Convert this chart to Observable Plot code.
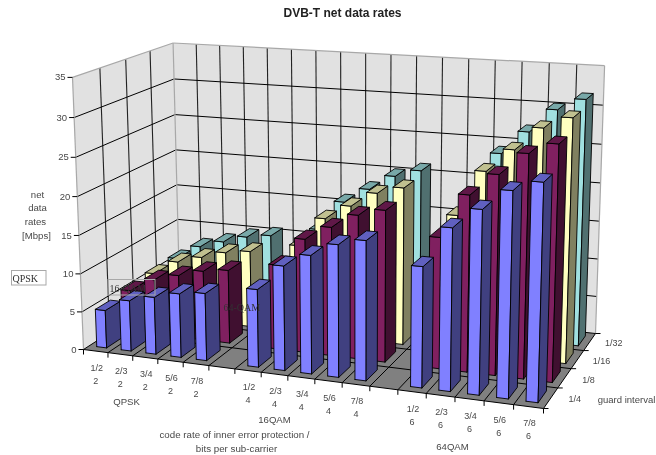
<!DOCTYPE html>
<html>
<head>
<meta charset="utf-8">
<script src="https://cdn.jsdelivr.net/npm/d3@7"></script>
<script src="https://cdn.jsdelivr.net/npm/@observablehq/plot@0.6"></script>
<style>
html,body{margin:0;padding:0;background:#fff;}
svg{display:block;filter:blur(0.35px);}
</style>
</head>
<body>
<div id="chart"></div>
<script>
// Data (Mbps), one list per guard interval
const codeRates = ["1/2", "2/3", "3/4", "5/6", "7/8"];
const bitsPerCarrier = [2, 4, 6];
const modulations = ["QPSK", "16QAM", "64QAM"];
const guardIntervals = ["1/4", "1/8", "1/16", "1/32"];
const guard1_4  = [4.98, 6.64, 7.46, 8.29, 8.71,  9.95, 13.27, 14.93, 16.59, 17.42,  14.93, 19.91, 22.39, 24.88, 26.13];
const guard1_8  = [5.53, 7.37, 8.29, 9.22, 9.68,  11.06, 14.75, 16.59, 18.43, 19.35,  16.59, 22.12, 24.88, 27.65, 29.03];
const guard1_16 = [5.85, 7.81, 8.78, 9.76, 10.25,  11.71, 15.61, 17.56, 19.52, 20.49,  17.56, 23.42, 26.35, 29.27, 30.74];
const guard1_32 = [6.03, 8.04, 9.05, 10.05, 10.56,  12.06, 16.09, 18.10, 20.11, 21.11,  18.10, 24.13, 27.14, 30.16, 31.67];
const series = [guard1_4, guard1_8, guard1_16, guard1_32];
const valueTicks = [0, 5, 10, 15, 20, 25, 30, 35];
const frontColors = ["#8080ff", "#802060", "#ffffc0", "#a0e0e0"];
const topColors   = ["#6060c0", "#601848", "#c0c090", "#78a8a8"];
const sideColors  = ["#404080", "#401030", "#808060", "#507070"];

// Camera calibration: floor corners and the vanishing point of the verticals
const slots = 17, depth = 4;
const [x0,y0,x1,y1,x2,y2,x3,y3] = [83,349, 543,408, 595,333, 179,287];
const den = (x1-x2)*(y3-y2) - (x3-x2)*(y1-y2);
const sx = x0-x1+x2-x3, sy = y0-y1+y2-y3;
const g = (sx*(y3-y2) - (x3-x2)*sy)/den;
const h = ((x1-x2)*sy - sx*(y1-y2))/den;
const A = x1-x0+g*x1, B = x3-x0+h*x3, D = y1-y0+g*y1, E = y3-y0+h*y3;
const vpX = 361, vpY = 7223, pw = -0.001088;
function project(u, v, z = 0) {
  const w = g*u + h*v + 1 + z*pw;
  return {
    x: (A*u + B*v + x0 + z*pw*vpX)/w,
    y: (D*u + E*v + y0 + z*pw*vpY)/w
  };
}
const zTop = valueTicks[valueTicks.length-1];
const polyRows = (points, fill, id) => [...points, points[0]].map(p => ({...p, id, fill}));

const wallPolys = [
  ...polyRows([project(0,0),project(0,1),project(0,1,zTop),project(0,0,zTop)], "#e1e1e1", "left"),
  ...polyRows([project(0,1),project(1,1),project(1,1,zTop),project(0,1,zTop)], "#e1e1e1", "back")
];
const floorPolys = polyRows([project(0,0),project(1,0),project(1,1),project(0,1)], "#808080", "floor");

// Bars, painted from the back row forward and left to right
const barPolys = [];
for (let s = series.length-1; s >= 0; s--) {
  series[s].forEach((val, i) => {
    const group = Math.floor(i/codeRates.length);
    const k = group*(codeRates.length+1) + i%codeRates.length;
    const u0 = (k+.305)/slots, u1 = (k+.71)/slots, v0 = (s+.22)/depth, v1 = (s+.8)/depth;
    barPolys.push(
      ...polyRows([project(u0,v0),project(u1,v0),project(u1,v0,val),project(u0,v0,val)], frontColors[s], `${s}-${i}-f`),
      ...polyRows([project(u1,v0),project(u1,v1),project(u1,v1,val),project(u1,v0,val)], sideColors[s], `${s}-${i}-s`),
      ...polyRows([project(u0,v0,val),project(u1,v0,val),project(u1,v1,val),project(u0,v1,val)], topColors[s], `${s}-${i}-t`)
    );
  });
}

const seg = (a,b) => ({x1:a.x,y1:a.y,x2:b.x,y2:b.y});
const steps = (n) => Array.from({length:n+1},(_,i)=>i);
const wallH = valueTicks.slice(1,-1).flatMap(z => [seg(project(0,0,z),project(0,1,z)), seg(project(0,1,z),project(1,1,z))]);
const wallV = [
  ...steps(slots).slice(1,-1).map(k => seg(project(k/slots,1),project(k/slots,1,zTop))),
  ...steps(depth).slice(1,-1).map(j => seg(project(0,j/depth),project(0,j/depth,zTop)))
];
const wallEdge = [
  seg(project(0,0),project(0,0,zTop)), seg(project(0,0,zTop),project(0,1,zTop)),
  seg(project(0,1,zTop),project(1,1,zTop)), seg(project(1,1,zTop),project(1,1)),
  seg(project(0,1),project(0,1,zTop))
];
const floorLines = [
  ...steps(slots).map(k => seg(project(k/slots,0),project(k/slots,1))),
  ...steps(depth).map(j => seg(project(0,j/depth),project(1,j/depth)))
];
const xTicks = steps(slots).map(k => project(k/slots,0));
const dTicks = steps(depth).map(j => project(1,j/depth));
const zTicksPos = valueTicks.map(z => ({...project(0,0,z), z}));

const xLabels = [];
codeRates.forEach((r,ri) => modulations.forEach((m,mi) => {
  xLabels.push({...project((mi*6+ri+.5)/slots,0), rate:r, bits:String(bitsPerCarrier[mi])});
}));
const dLabels = guardIntervals.map((t,j) => ({...project(1,(j+.5)/depth), t}));

const textFont = "'Liberation Sans', Arial, sans-serif";
const ink = "#484848";
const freeText = (lines, opts) => Plot.text(lines, {x:"x", y:"y", text:"t", fontFamily:textFont, fontSize:9.6, fill:ink, ...opts});

const chart = Plot.plot({
  width:656, height:455, margin:0,
  x:{domain:[0,656], range:[0,656], axis:null},
  y:{domain:[0,455], range:[0,455], axis:null},
  color:{type:"identity"},
  style:{background:"#fff"},
  marks:[
    Plot.line(wallPolys,{x:"x",y:"y",z:"id",fill:"fill",stroke:"none"}),
    Plot.link(wallV,{x1:"x1",y1:"y1",x2:"x2",y2:"y2",stroke:"#222",strokeWidth:1.1}),
    Plot.link(wallH,{x1:"x1",y1:"y1",x2:"x2",y2:"y2",stroke:"#000",strokeWidth:1}),
    Plot.link(wallEdge,{x1:"x1",y1:"y1",x2:"x2",y2:"y2",stroke:"#a8a8a8",strokeWidth:1.2}),
    Plot.line(floorPolys,{x:"x",y:"y",z:"id",fill:"fill",stroke:"none"}),
    Plot.link(floorLines,{x1:"x1",y1:"y1",x2:"x2",y2:"y2",stroke:"#000",strokeWidth:1}),
    Plot.link(xTicks,{x1:"x",y1:"y",x2:"x",y2:d=>d.y+5,stroke:"#000"}),
    Plot.link(dTicks,{x1:"x",y1:"y",x2:d=>d.x+5,y2:"y",stroke:"#000"}),
    Plot.link(zTicksPos,{x1:d=>d.x-5,y1:"y",x2:"x",y2:"y",stroke:"#000"}),
    Plot.line(barPolys,{x:"x",y:"y",z:"id",fill:"fill",stroke:"#000",strokeWidth:0.9}),
    Plot.text(zTicksPos,{x:"x",y:"y",text:d=>String(d.z),dx:-7,textAnchor:"end",fontFamily:textFont,fontSize:9.5,fill:ink}),
    Plot.text(xLabels,{x:"x",y:"y",text:"rate",dx:1,dy:17,fontFamily:textFont,fontSize:9,fill:ink}),
    Plot.text(xLabels,{x:"x",y:"y",text:"bits",dx:0,dy:30,fontFamily:textFont,fontSize:9,fill:ink}),
    Plot.text(dLabels,{x:"x",y:"y",text:"t",dx:24,dy:1.5,fontFamily:textFont,fontSize:9,fill:ink}),
    freeText([{x:342,y:13,t:"DVB-T net data rates"}],{fontWeight:"bold",fontSize:12,fill:"#222"}),
    freeText([{x:126,y:401,t:modulations[0]},{x:274,y:419.5,t:modulations[1]},{x:452,y:446,t:modulations[2]}],{}),
    freeText([{x:234,y:434,t:"code rate of inner error protection /"},{x:236,y:448,t:"bits per sub-carrier"}],{fontSize:9.75}),
    freeText([{x:626,y:399,t:"guard interval"}],{fontSize:9.5}),
    freeText([{x:37,y:194,t:"net"},{x:37,y:207,t:"data"},{x:35,y:221,t:"rates"},{x:36,y:235,t:"[Mbps]"}],{fontSize:9.6}),
    Plot.rect([{a:11.5,b:46,c:270.5,d:285},{a:108,b:155,c:279.5,d:295}],{x1:"a",x2:"b",y1:"c",y2:"d",fill:"none",stroke:"#a8a8a8"}),
    freeText([{x:12,y:278,t:"QPSK"},{x:109,y:288,t:"16-QAM"},{x:223,y:307,t:"64-QAM"}],{textAnchor:"start",fontFamily:"'Liberation Serif', serif",fontSize:10,fill:"#333"})
  ]
});
document.getElementById("chart").append(chart);
</script>
</body>
</html>
